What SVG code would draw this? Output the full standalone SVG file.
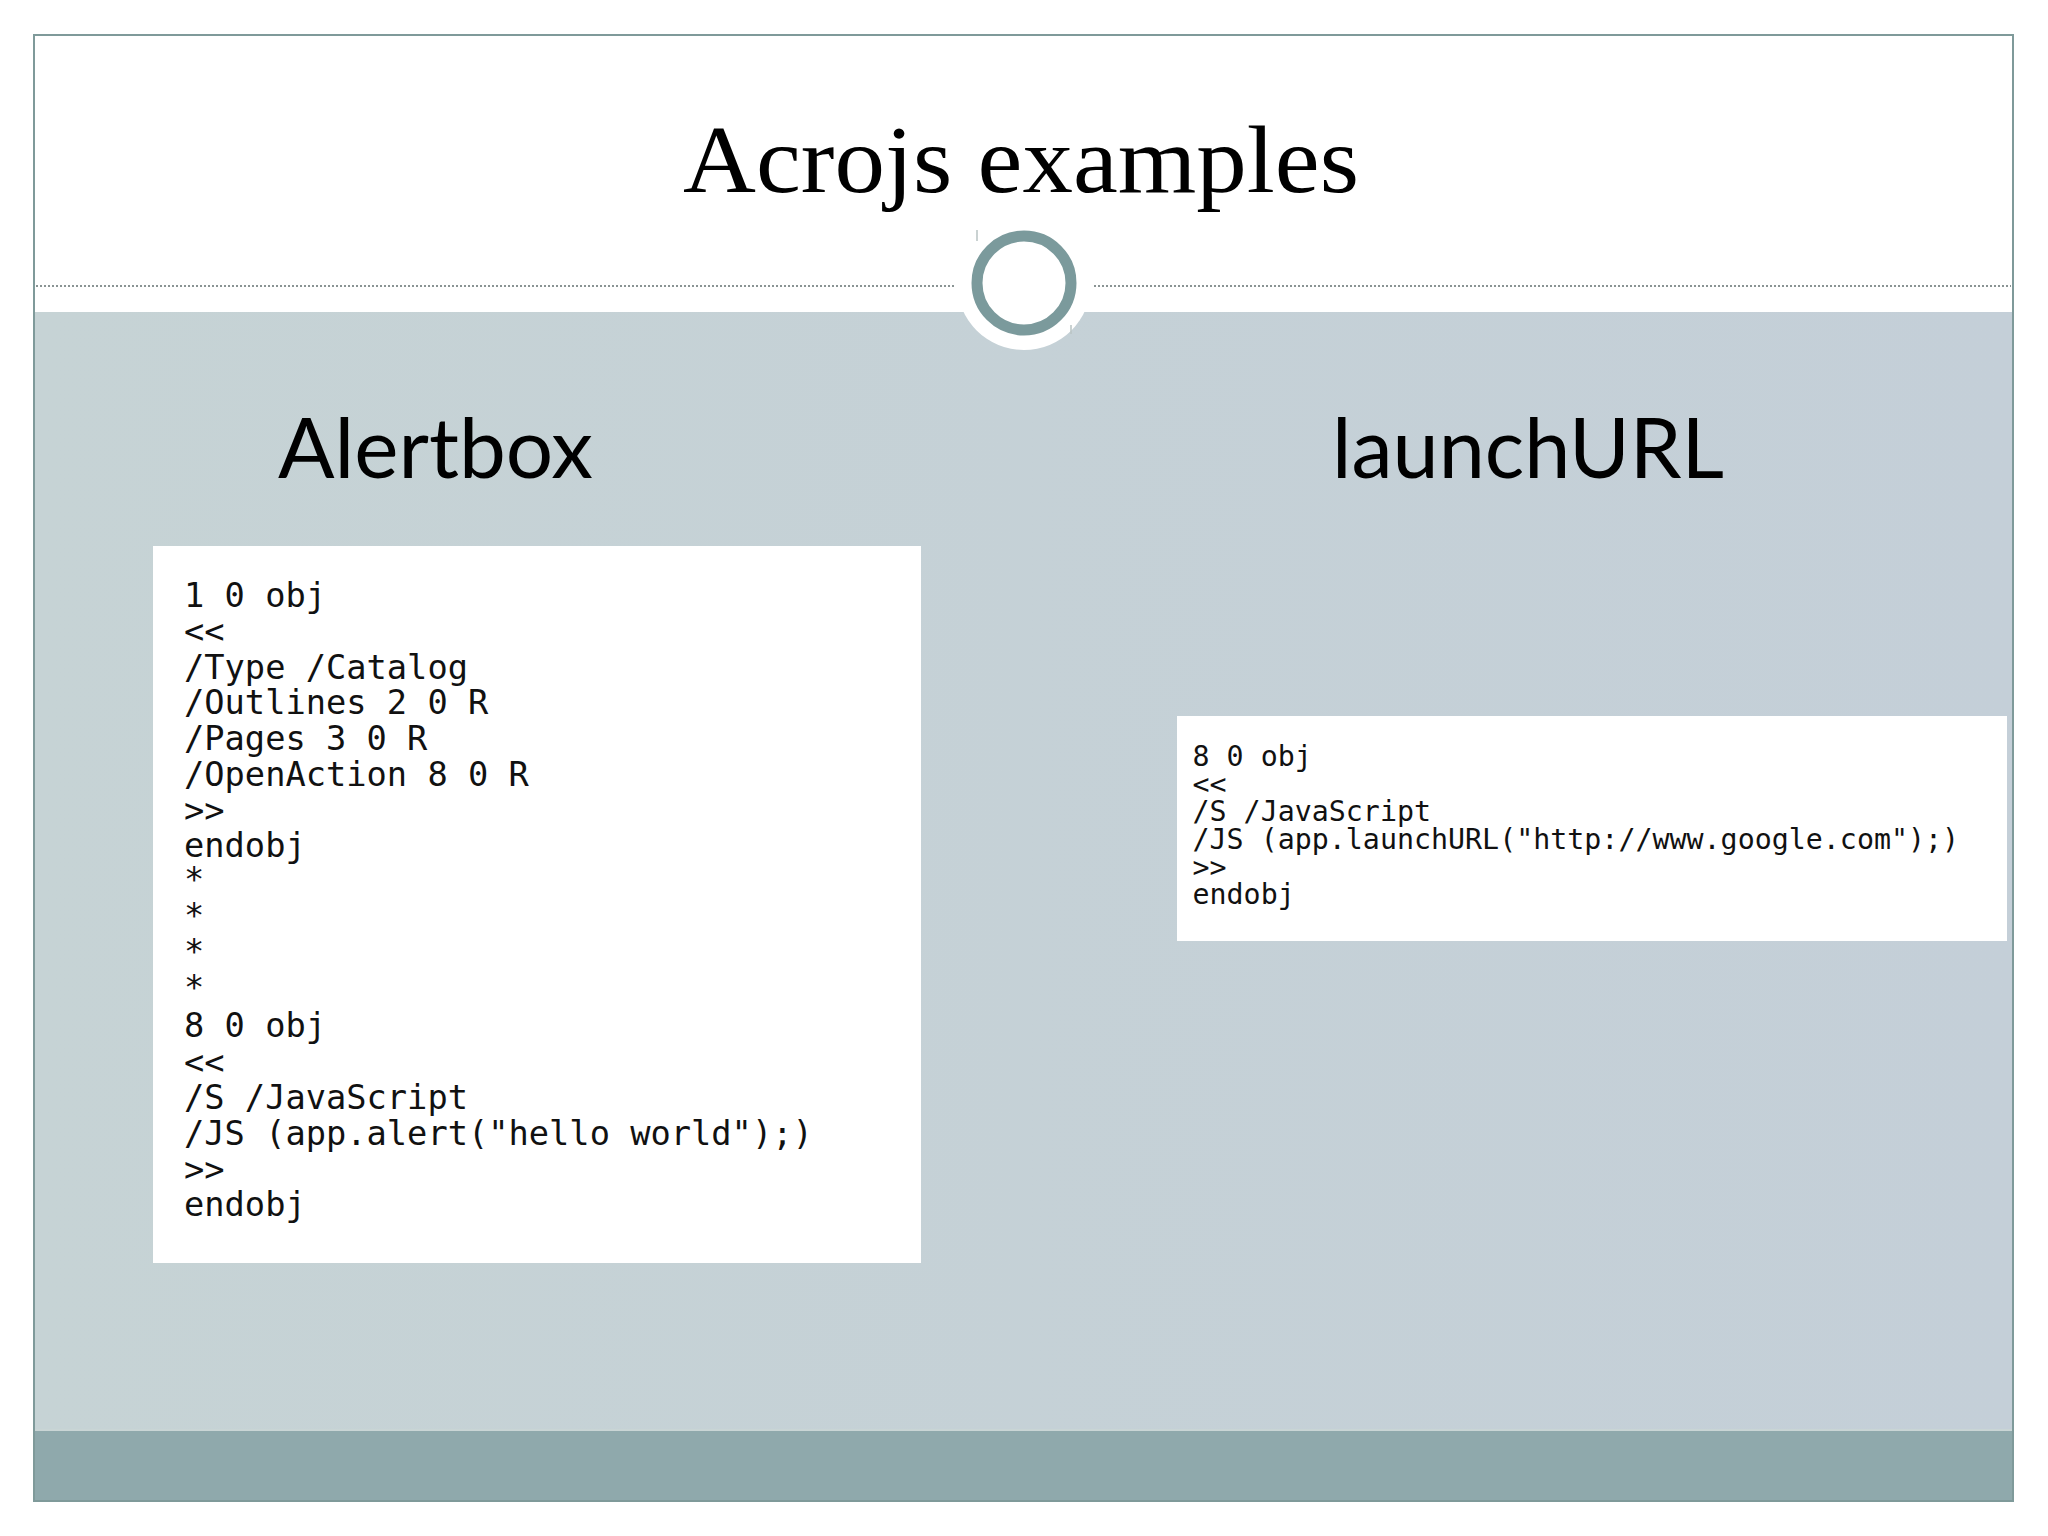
<svg xmlns="http://www.w3.org/2000/svg" width="2048" height="1536" viewBox="0 0 2048 1536">
<style>
.title{font-family:"Liberation Serif","DejaVu Serif",serif;font-size:96px;fill:#000}
.head{font-family:Lato,"Noto Sans",sans-serif;font-size:84px;fill:#000}
.code1{font-family:"DejaVu Sans Mono","Liberation Mono",monospace;font-size:33.7px;fill:#111}
.code2{font-family:"DejaVu Sans Mono","Liberation Mono",monospace;font-size:28.3px;fill:#111}
.dots{stroke:#8a9494;stroke-width:2;stroke-dasharray:2 2;fill:none}
.tick{stroke:#b9c4c4;stroke-width:1.5;fill:none}
</style>
<defs>
<linearGradient id="band" x1="0" y1="0" x2="1" y2="0">
<stop offset="0" stop-color="#c6d3d5"/>
<stop offset="1" stop-color="#c4cfd8"/>
</linearGradient>
</defs>
<rect width="2048" height="1536" fill="#fff"/>
<g id="slide">
<rect x="34" y="312" width="1979" height="1119" fill="url(#band)"/>
<rect x="34" y="1431" width="1979" height="70" fill="#8fa9ac"/>
<rect x="34" y="1429" width="1979" height="2" fill="#c9d5d5"/>
<rect x="34" y="35" width="1979" height="1466" fill="none" stroke="#7f9a9a" stroke-width="2"/>
<circle cx="1024" cy="283" r="67" fill="#fff"/>
<path class="dots" d="M36 286H955M1094 286H2011"/>
<circle cx="1024" cy="283" r="47" fill="#fff" stroke="#7b9a9c" stroke-width="11"/>
<path class="tick" d="M977 230V241M1071 325V334"/>
</g>
<text class="title" x="1021" y="192" text-anchor="middle" textLength="676" lengthAdjust="spacingAndGlyphs">Acrojs examples</text>
<text class="head" x="278" y="478" textLength="315" lengthAdjust="spacingAndGlyphs">Alertbox</text>
<text class="head" x="1332" y="478" textLength="392" lengthAdjust="spacingAndGlyphs">launchURL</text>
<g id="code-alertbox">
<rect x="153" y="546" width="768" height="717" fill="#fff"/>
<text class="code1" x="184" y="607">1 0 obj</text>
<text class="code1" x="184" y="643">&lt;&lt;</text>
<text class="code1" x="184" y="679">/Type /Catalog</text>
<text class="code1" x="184" y="714">/Outlines 2 0 R</text>
<text class="code1" x="184" y="750">/Pages 3 0 R</text>
<text class="code1" x="184" y="786">/OpenAction 8 0 R</text>
<text class="code1" x="184" y="822">&gt;&gt;</text>
<text class="code1" x="184" y="857">endobj</text>
<text class="code1" x="184" y="891">*</text>
<text class="code1" x="184" y="927">*</text>
<text class="code1" x="184" y="963">*</text>
<text class="code1" x="184" y="999">*</text>
<text class="code1" x="184" y="1037">8 0 obj</text>
<text class="code1" x="184" y="1074">&lt;&lt;</text>
<text class="code1" x="184" y="1109">/S /JavaScript</text>
<text class="code1" x="184" y="1145">/JS (app.alert("hello world");)</text>
<text class="code1" x="184" y="1181">&gt;&gt;</text>
<text class="code1" x="184" y="1216">endobj</text>
</g>
<g id="code-launchurl">
<rect x="1177" y="716" width="830" height="225" fill="#fff"/>
<text class="code2" x="1192.5" y="766">8 0 obj</text>
<text class="code2" x="1192.5" y="794">&lt;&lt;</text>
<text class="code2" x="1192.5" y="821">/S /JavaScript</text>
<text class="code2" x="1192.5" y="849">/JS (app.launchURL("http://www.google.com");)</text>
<text class="code2" x="1192.5" y="877">&gt;&gt;</text>
<text class="code2" x="1192.5" y="904">endobj</text>
</g>
</svg>
